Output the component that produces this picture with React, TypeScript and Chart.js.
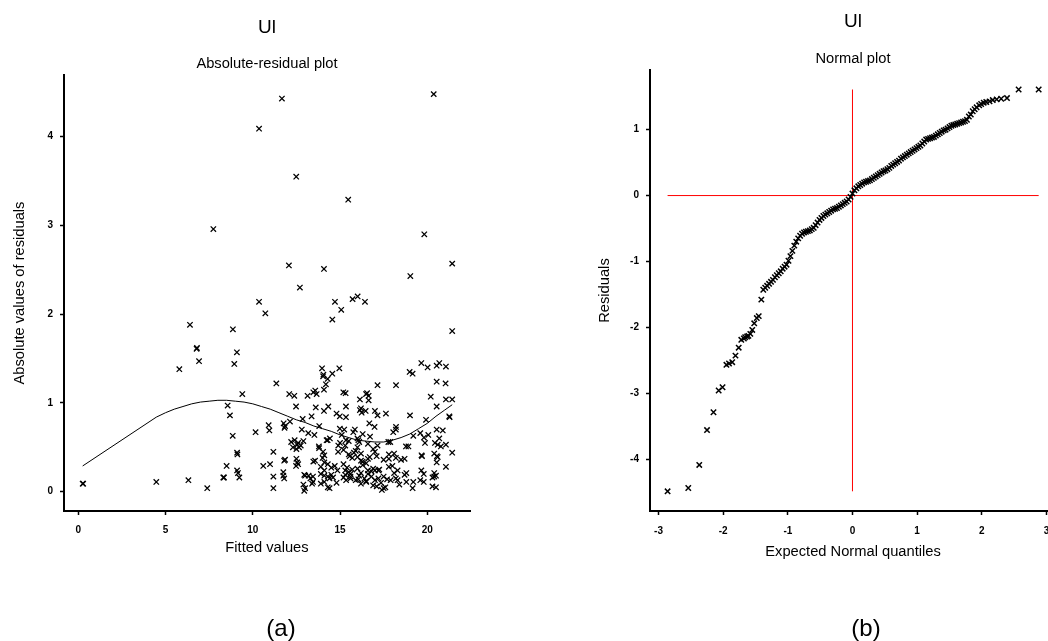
import React, { useEffect, useRef } from "react";
import { Chart, registerables } from "chart.js";

Chart.register(...registerables);

const FONT = '"Liberation Sans", Arial, Helvetica, sans-serif';

// Panel (a): fitted value vs absolute residual
const absResidualPoints: [number, number][] = [
  [11.67, 4.43], [20.37, 4.48], [10.36, 4.09], [12.49, 3.55], [15.47, 3.29], [7.74, 2.96], [19.83, 2.9],
  [21.43, 2.57], [12.07, 2.55], [14.08, 2.51], [19.03, 2.43], [12.7, 2.3], [10.36, 2.14], [14.71, 2.14],
  [15.72, 2.17], [16.01, 2.2], [16.43, 2.14], [10.72, 2.01], [15.07, 2.05], [14.56, 1.94],
  [6.4, 1.88], [8.86, 1.83], [21.43, 1.81], [6.78, 1.61], [6.8, 1.62], [9.09, 1.57], [6.92, 1.47], [8.94, 1.44],
  [5.79, 1.38], [13.97, 1.39], [14.96, 1.39], [19.66, 1.45], [20.02, 1.4], [20.69, 1.45], [20.54, 1.42],
  [21.07, 1.41], [18.99, 1.35], [19.16, 1.33], [14.03, 1.3], [14.05, 1.32], [14.56, 1.33], [14.29, 1.27],
  [21.05, 1.22], [20.54, 1.24], [11.35, 1.22], [17.15, 1.2], [18.21, 1.2], [14.19, 1.21], [14.08, 1.15],
  [13.58, 1.14], [9.4, 1.1], [12.09, 1.1], [12.38, 1.08], [13.14, 1.08], [13.47, 1.12], [13.66, 1.1],
  [15.19, 1.12], [15.32, 1.11], [16.49, 1.1], [16.55, 1.11], [16.64, 1.08], [20.2, 1.07], [16.14, 1.04],
  [16.64, 1.03], [21.07, 1.04], [21.43, 1.04],
  [8.56, 0.97], [12.48, 0.96], [13.61, 0.95], [14.33, 0.96], [15.34, 0.96], [20.54, 0.96], [16.14, 0.92],
  [16.2, 0.94], [16.47, 0.91], [14.08, 0.91], [17.0, 0.91], [17.63, 0.88], [14.8, 0.88], [16.24, 0.89],
  [19.01, 0.86], [8.69, 0.86], [13.37, 0.85], [14.99, 0.85], [15.34, 0.84], [17.15, 0.86], [21.26, 0.85],
  [21.28, 0.84], [12.86, 0.82], [19.93, 0.81], [11.77, 0.77], [10.91, 0.75], [13.81, 0.74], [16.68, 0.77],
  [16.98, 0.73], [18.21, 0.73], [12.13, 0.79], [11.85, 0.74],
  [10.95, 0.69], [11.82, 0.72], [12.81, 0.7], [14.99, 0.71], [15.24, 0.7], [20.54, 0.7], [20.89, 0.69],
  [10.16, 0.67], [8.85, 0.63], [13.18, 0.66], [13.53, 0.64], [15.76, 0.67], [18.05, 0.67], [20.06, 0.64],
  [19.2, 0.63], [15.34, 0.58], [16.05, 0.58], [16.72, 0.62], [19.81, 0.61], [20.69, 0.6], [15.85, 0.7],
  [16.3, 0.65], [18.2, 0.7], [19.6, 0.66], [15.1, 0.64], [14.42, 0.6], [14.23, 0.58], [16.0, 0.6],
  [12.2, 0.56], [12.4, 0.58], [12.6, 0.55], [12.75, 0.52], [12.9, 0.57], [12.65, 0.5], [12.5, 0.48],
  [12.55, 0.53], [14.29, 0.58], [17.88, 0.56], [20.44, 0.55], [21.07, 0.53], [20.78, 0.51], [18.78, 0.51],
  [19.87, 0.55], [13.79, 0.51], [15.0, 0.55], [15.3, 0.52], [15.5, 0.57], [16.0, 0.5], [16.1, 0.56],
  [16.6, 0.54], [17.15, 0.52], [16.9, 0.48], [17.77, 0.56], [18.92, 0.51], [20.6, 0.53], [15.9, 0.46],
  [14.9, 0.52], [12.3, 0.5],
  [15.5, 0.42], [15.55, 0.4], [9.1, 0.44], [9.12, 0.42], [11.18, 0.45], [14.03, 0.45], [14.1, 0.41],
  [14.89, 0.45], [15.8, 0.44], [16.2, 0.43], [17.0, 0.45], [17.1, 0.4], [18.1, 0.43], [17.8, 0.42],
  [19.67, 0.41], [20.4, 0.43], [20.55, 0.4], [21.43, 0.44], [17.5, 0.36], [17.8, 0.37], [18.5, 0.36],
  [18.7, 0.37], [12.5, 0.37], [12.55, 0.33], [11.8, 0.35], [11.85, 0.36], [13.47, 0.34], [13.57, 0.35],
  [14.0, 0.38], [14.1, 0.33], [16.2, 0.35], [16.3, 0.34], [16.6, 0.37], [16.5, 0.32], [16.7, 0.39],
  [15.7, 0.38], [16.0, 0.39], [18.2, 0.38], [19.7, 0.4], [20.6, 0.39], [13.8, 0.49], [15.2, 0.47],
  [20.54, 0.33], [17.8, 0.28], [18.0, 0.29], [8.5, 0.29], [9.1, 0.24], [9.15, 0.21], [10.99, 0.31],
  [10.6, 0.29], [12.48, 0.29], [12.6, 0.31], [13.9, 0.28], [14.1, 0.24], [14.3, 0.31], [14.5, 0.27],
  [14.7, 0.29], [14.85, 0.24], [16.6, 0.24], [16.8, 0.23], [17.0, 0.24], [16.9, 0.26], [19.66, 0.24],
  [20.4, 0.21], [20.3, 0.16], [21.07, 0.28], [18.3, 0.24], [18.1, 0.21], [15.3, 0.24], [15.5, 0.22],
  [15.4, 0.27], [15.6, 0.2], [15.7, 0.25], [16.0, 0.26], [16.2, 0.21], [17.2, 0.24], [17.25, 0.25],
  [18.8, 0.21], [19.8, 0.2], [15.2, 0.31], [16.3, 0.3], [11.75, 0.22], [13.2, 0.18], [13.3, 0.15],
  [13.45, 0.17],
  [11.18, 0.17], [11.75, 0.18], [11.8, 0.15], [8.31, 0.16], [8.35, 0.16], [9.23, 0.16], [12.95, 0.19],
  [13.0, 0.18], [13.9, 0.2], [14.1, 0.18], [14.3, 0.17], [14.5, 0.19], [14.6, 0.16], [14.4, 0.15],
  [15.2, 0.16], [15.6, 0.17], [16.1, 0.18], [16.4, 0.15], [16.5, 0.12], [16.8, 0.17], [17.0, 0.13],
  [17.2, 0.15], [17.35, 0.1], [17.7, 0.14], [17.9, 0.13], [18.2, 0.15], [18.3, 0.13], [19.2, 0.11],
  [19.6, 0.13], [19.8, 0.11], [20.4, 0.17], [20.5, 0.18], [18.7, 0.19], [0.25, 0.09], [0.28, 0.09],
  [4.47, 0.11], [6.31, 0.13], [7.39, 0.04], [11.18, 0.04], [12.9, 0.08], [13.0, 0.04], [12.95, 0.01],
  [13.45, 0.11], [13.4, 0.09], [13.9, 0.09], [14.1, 0.11], [14.3, 0.05], [14.4, 0.04], [16.2, 0.09],
  [16.5, 0.11], [16.9, 0.07], [17.1, 0.06], [17.5, 0.04], [17.4, 0.02], [17.6, 0.05], [18.4, 0.08],
  [18.8, 0.11], [19.16, 0.04], [20.3, 0.06], [20.5, 0.05], [15.9, 0.13], [15.35, 0.13], [15.6, 0.15],
  [16.05, 0.14], [14.8, 0.1], [15.3, 0.19], [16.6, 0.2], [17.5, 0.17],
];

// Smooth (loess) curve through panel (a)
const smoothX = [0.25, 4.47, 5.0, 5.5, 6.0, 6.5, 7.0, 7.5, 8.0, 8.5, 9.0, 9.5, 10.0, 10.5, 11.0, 11.5, 12.0, 12.5,
  13.0, 13.5, 14.0, 14.5, 15.0, 15.5, 16.0, 16.5, 17.0, 17.5, 18.0, 18.5, 19.0, 19.5, 20.0, 20.5, 21.0, 21.43];
const smoothY = [0.29, 0.84, 0.89, 0.93, 0.96, 0.99, 1.01, 1.02, 1.03, 1.03, 1.02, 1.01, 0.99, 0.96, 0.93, 0.89,
  0.85, 0.81, 0.78, 0.74, 0.71, 0.68, 0.64, 0.61, 0.58, 0.57, 0.56, 0.56, 0.58, 0.61, 0.65, 0.71, 0.77, 0.85, 0.92, 0.98];

// Panel (b): normal quantiles vs residuals
const qqQuantiles = [-2.86, -2.54, -2.37, -2.25, -2.15, -2.07, -2.01, -1.95, -1.91, -1.86, -1.81, -1.76, -1.72,
  -1.68, -1.66, -1.63, -1.61, -1.58, -1.55, -1.52, -1.48, -1.45, -1.41, -1.38, -1.35, -1.32, -1.29, -1.26, -1.23,
  -1.2, -1.17, -1.14, -1.11, -1.08, -1.05, -1.02, -0.99, -0.96, -0.93, -0.9, -0.87, -0.84, -0.81, -0.78, -0.75,
  -0.72, -0.69, -0.66, -0.63, -0.6, -0.57, -0.54, -0.51, -0.48, -0.45, -0.42, -0.39, -0.36, -0.33, -0.3, -0.27,
  -0.24, -0.21, -0.18, -0.15, -0.12, -0.09, -0.06, -0.03, 0.0, 0.03, 0.06, 0.09, 0.12, 0.15, 0.18, 0.21, 0.24,
  0.27, 0.3, 0.33, 0.36, 0.39, 0.42, 0.45, 0.48, 0.51, 0.54, 0.57, 0.6, 0.63, 0.66, 0.69, 0.72, 0.75, 0.78, 0.81,
  0.84, 0.87, 0.9, 0.93, 0.96, 0.99, 1.02, 1.05, 1.08, 1.11, 1.14, 1.17, 1.2, 1.23, 1.26, 1.29, 1.32, 1.35, 1.38,
  1.41, 1.44, 1.47, 1.5, 1.53, 1.56, 1.59, 1.62, 1.65, 1.68, 1.71, 1.74, 1.77, 1.8, 1.83, 1.86, 1.89, 1.92, 1.96,
  1.99, 2.03, 2.07, 2.12, 2.17, 2.23, 2.3, 2.39, 2.57, 2.88];
const qqResiduals = [-4.49, -4.44, -4.09, -3.56, -3.29, -2.96, -2.91, -2.57, -2.55, -2.53, -2.43, -2.31, -2.19,
  -2.17, -2.15, -2.14, -2.13, -2.1, -2.04, -1.94, -1.86, -1.83, -1.58, -1.43, -1.4, -1.37, -1.34, -1.31, -1.28,
  -1.24, -1.21, -1.18, -1.15, -1.11, -1.08, -1.05, -0.99, -0.92, -0.84, -0.76, -0.7, -0.65, -0.61, -0.58, -0.56,
  -0.55, -0.54, -0.53, -0.51, -0.49, -0.45, -0.41, -0.37, -0.34, -0.31, -0.29, -0.27, -0.25, -0.23, -0.21, -0.2,
  -0.19, -0.17, -0.15, -0.13, -0.11, -0.09, -0.06, -0.02, 0.03, 0.08, 0.11, 0.14, 0.16, 0.18, 0.2, 0.21, 0.22,
  0.23, 0.25, 0.27, 0.29, 0.31, 0.33, 0.35, 0.37, 0.38, 0.4, 0.42, 0.45, 0.47, 0.49, 0.51, 0.53, 0.56, 0.58, 0.6,
  0.62, 0.64, 0.66, 0.68, 0.7, 0.72, 0.74, 0.76, 0.79, 0.82, 0.85, 0.86, 0.87, 0.88, 0.89, 0.91, 0.93, 0.95, 0.97,
  0.99, 1.0, 1.02, 1.04, 1.06, 1.07, 1.08, 1.09, 1.1, 1.11, 1.12, 1.13, 1.15, 1.2, 1.23, 1.28, 1.31, 1.34, 1.37,
  1.39, 1.41, 1.42, 1.43, 1.45, 1.46, 1.47, 1.48, 1.61, 1.61];

const axisTicks = (size: number) => ({ color: "#000", font: { family: FONT, size, weight: "bold" as const } });
const axisGrid = { drawOnChartArea: false, drawTicks: true, tickLength: 4, tickColor: "#000", tickWidth: 1.5 };
const axisBorder = { display: true, color: "#000", width: 2 };
const titleFont = { family: FONT, size: 14.7, weight: "normal" as const };

function residualConfig(): any {
  return {
    type: "scatter",
    data: {
      datasets: [
        {
          data: absResidualPoints.map(([x, y]) => ({ x, y })),
          pointStyle: "crossRot",
          pointRadius: 3.8,
          borderColor: "#000",
          backgroundColor: "#000",
          borderWidth: 1.25,
          showLine: false,
        },
        {
          type: "line",
          data: smoothX.map((x, i) => ({ x, y: smoothY[i] })),
          borderColor: "#000",
          borderWidth: 1,
          pointRadius: 0,
          tension: 0,
          fill: false,
        },
      ],
    },
    options: {
      responsive: false,
      animation: false,
      events: [],
      layout: { padding: { left: 0, right: 54, top: 0, bottom: 0 } },
      plugins: {
        legend: { display: false },
        tooltip: { enabled: false },
        title: {
          display: true, text: "Ul", fullSize: false, color: "#000",
          font: { family: FONT, size: 19, weight: "normal" }, padding: { top: 16, bottom: 0 },
        },
        subtitle: {
          display: true, text: "Absolute-residual plot", fullSize: false, color: "#000",
          font: titleFont, padding: { top: 16, bottom: 2.6 },
        },
      },
      scales: {
        x: {
          type: "linear", position: "bottom", min: -0.82, max: 22.45,
          afterFit: (s: any) => { s.height = 130; },
          ticks: { ...axisTicks(10), stepSize: 5, includeBounds: false, padding: 9, maxRotation: 0 },
          grid: axisGrid, border: axisBorder,
          title: { display: true, text: "Fitted values", color: "#000", font: titleFont, padding: { top: 0, bottom: 84.2 } },
        },
        y: {
          type: "linear", position: "left", min: -0.2175, max: 4.695,
          afterFit: (s: any) => { s.width = 64; },
          ticks: { ...axisTicks(10), stepSize: 1, includeBounds: false, padding: 7 },
          grid: axisGrid, border: axisBorder,
          title: { display: true, text: "Absolute values of residuals", color: "#000", font: titleFont, padding: { top: 11.2, bottom: 0 } },
        },
      },
    },
  };
}

function normalConfig(): any {
  const rMin = Math.min(...qqResiduals);
  const rMax = Math.max(...qqResiduals);
  const qMin = Math.min(...qqQuantiles);
  const qMax = Math.max(...qqQuantiles);
  return {
    type: "scatter",
    data: {
      datasets: [
        {
          data: qqQuantiles.map((x, i) => ({ x, y: qqResiduals[i] })),
          pointStyle: "crossRot",
          pointRadius: 3.8,
          borderColor: "#000",
          backgroundColor: "#000",
          borderWidth: 1.5,
          showLine: false,
        },
        {
          type: "line",
          data: [{ x: 0, y: rMin }, { x: 0, y: rMax }],
          borderColor: "rgb(255,0,0)", borderWidth: 1, pointRadius: 0, fill: false,
        },
        {
          type: "line",
          data: [{ x: qMin, y: 0 }, { x: qMax, y: 0 }],
          borderColor: "rgb(255,0,0)", borderWidth: 1, pointRadius: 0, fill: false,
        },
      ],
    },
    options: {
      responsive: false,
      animation: false,
      events: [],
      layout: { padding: { left: 0, right: 8, top: 0, bottom: 0 } },
      plugins: {
        legend: { display: false },
        tooltip: { enabled: false },
        title: {
          display: true, text: "Ul", fullSize: false, color: "#000",
          font: { family: FONT, size: 19, weight: "normal" }, padding: { top: 10.8, bottom: 0 },
        },
        subtitle: {
          display: true, text: "Normal plot", fullSize: false, color: "#000",
          font: titleFont, padding: { top: 16.1, bottom: 2.7 },
        },
      },
      scales: {
        x: {
          type: "linear", position: "bottom", min: -3.132, max: 3.148,
          afterFit: (s: any) => { s.height = 130; },
          ticks: { ...axisTicks(10), stepSize: 1, includeBounds: false, padding: 10, maxRotation: 0 },
          grid: axisGrid, border: axisBorder,
          title: { display: true, text: "Expected Normal quantiles", color: "#000", font: titleFont, padding: { top: 0, bottom: 80.7 } },
        },
        y: {
          type: "linear", position: "left", min: -4.789, max: 1.9055,
          afterFit: (s: any) => { s.width = 126; },
          ticks: { ...axisTicks(10), stepSize: 1, includeBounds: false, padding: 7 },
          grid: axisGrid, border: axisBorder,
          title: { display: true, text: "Residuals", color: "#000", font: titleFont, padding: { top: 72.2, bottom: 0 } },
        },
      },
    },
  };
}

const panelLabel: React.CSSProperties = {
  position: "absolute",
  fontFamily: FONT,
  fontSize: 24,
  lineHeight: "24px",
  color: "#000",
  transform: "translate(-50%, -50%)",
  whiteSpace: "nowrap",
};

export default function App() {
  const leftRef = useRef<HTMLCanvasElement>(null);
  const rightRef = useRef<HTMLCanvasElement>(null);

  useEffect(() => {
    const left = new Chart(leftRef.current as HTMLCanvasElement, residualConfig());
    const right = new Chart(rightRef.current as HTMLCanvasElement, normalConfig());
    return () => {
      left.destroy();
      right.destroy();
    };
  }, []);

  return (
    <div
      style={{
        position: "absolute", left: 0, top: 0, width: 1048, height: 641,
        overflow: "hidden", background: "#fff",
      }}
    >
      <canvas ref={leftRef} width={524} height={641} style={{ position: "absolute", left: 0, top: 0 }} />
      <canvas ref={rightRef} width={540} height={641} style={{ position: "absolute", left: 524, top: 0 }} />
      <div style={{ ...panelLabel, left: 281, top: 628 }}>(a)</div>
      <div style={{ ...panelLabel, left: 866, top: 628 }}>(b)</div>
    </div>
  );
}
